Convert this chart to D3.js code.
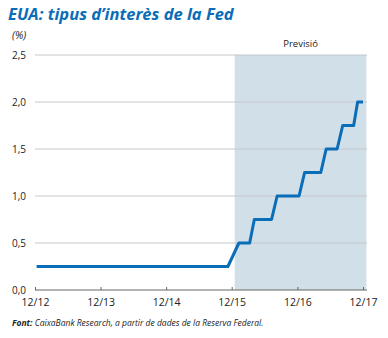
<!DOCTYPE html>
<html>
<head>
<meta charset="utf-8">
<script src="https://cdn.jsdelivr.net/npm/d3@7"></script>
<style>
  body { margin: 0; background: #fff; }
  svg { display: block; font-family: "Open Sans", "Noto Sans", sans-serif; }
</style>
</head>
<body>
<svg id="chart" width="388" height="338"></svg>
<script>
// data
const rateDates = ["2012-12-10", "2015-11-10", "2016-01-10", "2016-03-10", "2016-04-05",
  "2016-07-10", "2016-08-10", "2016-12-10", "2017-01-10", "2017-04-10", "2017-05-10",
  "2017-07-10", "2017-08-10", "2017-10-10", "2017-11-01", "2017-12-01"];
const rateValues = [0.25, 0.25, 0.5, 0.5, 0.75, 0.75, 1, 1, 1.25, 1.25, 1.5, 1.5, 1.75, 1.75, 2, 2];
const forecastRange = ["2015-12-18", "2017-12-20"];
const yTicks = [0, 0.5, 1, 1.5, 2, 2.5];
const xTickDates = ["2012-12-01", "2013-12-01", "2014-12-01", "2015-12-01", "2016-12-01", "2017-12-01"];
const xTickLabels = ["12/12", "12/13", "12/14", "12/15", "12/16", "12/17"];

const parse = d3.timeParse("%Y-%m-%d");
const blue = "#0a6db8";

const svg = d3.select("#chart");

const x = d3.scaleTime()
  .domain([parse("2012-12-01"), parse("2017-12-01")])
  .range([35, 363]);
const y = d3.scaleLinear().domain([0, 2.5]).range([290, 55]);

// forecast band
svg.append("rect")
  .attr("x", x(parse(forecastRange[0])))
  .attr("y", y(2.5))
  .attr("width", x(parse(forecastRange[1])) - x(parse(forecastRange[0])))
  .attr("height", y(0) - y(2.5))
  .attr("fill", "#d1dfe8");

svg.append("text")
  .attr("x", (x(parse(forecastRange[0])) + x(parse(forecastRange[1]))) / 2)
  .attr("y", 47)
  .attr("text-anchor", "middle")
  .attr("font-size", 9.5)
  .attr("fill", "#222")
  .text("Previsió");

// grid
svg.append("g")
  .selectAll("line")
  .data(yTicks.filter(d => d > 0))
  .join("line")
  .attr("x1", 35)
  .attr("x2", 367)
  .attr("y1", d => y(d))
  .attr("y2", d => y(d))
  .attr("stroke", "#c4c8cc")
  .attr("stroke-width", 1);

// y labels
svg.append("g")
  .selectAll("text")
  .data(yTicks)
  .join("text")
  .attr("x", 26)
  .attr("y", d => y(d) + 3.5)
  .attr("text-anchor", "end")
  .attr("font-size", 10)
  .attr("fill", "#222")
  .text(d => d3.format(".1f")(d).replace(".", ","));

// x axis
const xAxis = d3.axisBottom(x)
  .tickValues(xTickDates.map(parse))
  .tickSize(3)
  .tickFormat((d, i) => xTickLabels[i]);

const gx = svg.append("g")
  .attr("transform", `translate(0,${y(0) - 3})`)
  .call(xAxis);
gx.select(".domain").attr("d", `M35,3V3H367`).attr("stroke", "#666");
gx.selectAll(".tick line").attr("stroke", "#666").attr("y1", 0).attr("y2", 3);
gx.selectAll(".tick text")
  .attr("y", 12)
  .attr("font-size", 10.5)
  .attr("font-family", "\"Open Sans\", sans-serif")
  .attr("fill", "#222");

// rate line
const points = rateDates.map((d, i) => ({ date: parse(d), value: rateValues[i] }));
svg.append("path")
  .datum(points)
  .attr("fill", "none")
  .attr("stroke", blue)
  .attr("stroke-width", 3)
  .attr("stroke-linejoin", "round")
  .attr("d", d3.line().x(d => x(d.date)).y(d => y(d.value)));

// titles
svg.append("text")
  .attr("x", 8)
  .attr("y", 20)
  .attr("font-size", 16.5)
  .attr("font-weight", "bold")
  .attr("font-style", "italic")
  .attr("fill", blue)
  .text("EUA: tipus d’interès de la Fed");

svg.append("text")
  .attr("x", 12)
  .attr("y", 39)
  .attr("font-size", 10.5)
  .attr("font-style", "italic")
  .attr("fill", "#222")
  .text("(%)");

const foot = svg.append("text")
  .attr("x", 12)
  .attr("y", 326)
  .attr("font-size", 8.5)
  .attr("font-style", "italic")
  .attr("fill", "#222");
foot.append("tspan").attr("font-weight", "bold").text("Font: ");
foot.append("tspan").text("CaixaBank Research, a partir de dades de la Reserva Federal.");
</script>
</body>
</html>
